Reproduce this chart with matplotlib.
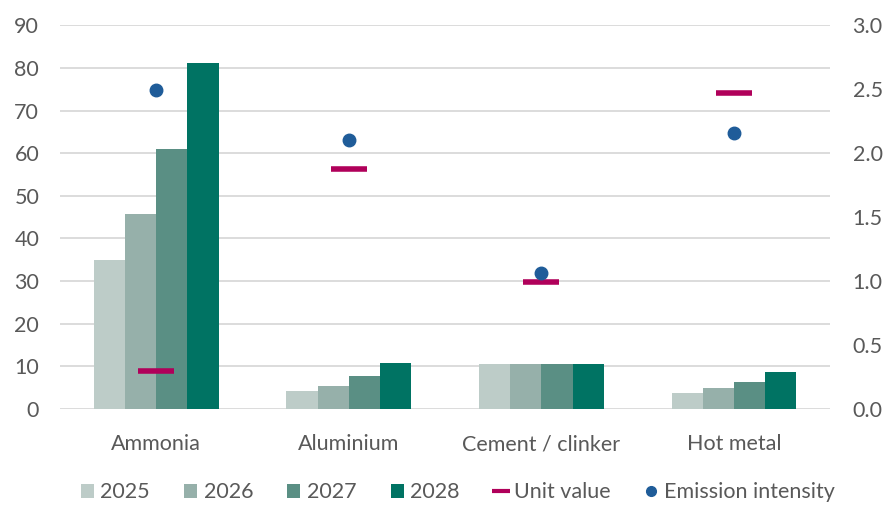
import numpy as np
import matplotlib.pyplot as plt
from matplotlib.lines import Line2D

# DONNEES
categories = ['Ammonia', 'Aluminium', 'Cement / clinker', 'Hot metal']
years = ['2025', '2026', '2027', '2028']
v2025 = [35.0, 4.2, 10.5, 3.8]
v2026 = [45.8, 5.5, 10.5, 5.0]
v2027 = [61.0, 7.8, 10.5, 6.4]
v2028 = [81.2, 10.8, 10.5, 8.7]
unit_value = [0.30, 1.88, 0.99, 2.47]
emission_intensity = [2.49, 2.10, 1.065, 2.16]

colors = ['#bdccc8', '#96b0aa', '#5a8f84', '#007363']
red = '#b0005a'
blue = '#1f5c99'
grey = '#595959'

plt.rcParams['font.family'] = ['Lato', 'DejaVu Sans']

fig = plt.figure(figsize=(8.89, 5.05), dpi=100)
ax = fig.add_axes([0.0675, 0.19, 0.8665, 0.76])
ax2 = ax.twinx()

x = np.arange(len(categories))
w = 0.162
series = [v2025, v2026, v2027, v2028]
handles = []
for i, (vals, c, yr) in enumerate(zip(series, colors, years)):
    b = ax.bar(x + (i - 1.5) * w, vals, w, color=c, label=yr, zorder=3)
    handles.append(b)

ax2.plot(x, unit_value, linestyle='none', marker='_', markersize=26,
         markeredgewidth=4, color=red, zorder=4)
ax2.plot(x, emission_intensity, linestyle='none', marker='o', markersize=9,
         color=blue, zorder=4)

ax.set_xlim(-0.5, 3.5)
ax.set_ylim(0, 90)
ax.set_yticks(np.arange(0, 91, 10))
ax2.set_ylim(0, 3.0)
ax2.set_yticks(np.arange(0, 3.01, 0.5))
ax2.set_yticklabels(['%.1f' % t for t in np.arange(0, 3.01, 0.5)])

ax.yaxis.grid(True, color='#d9d9d9', linestyle='-', linewidth=1.3, zorder=0)
ax.set_axisbelow(True)
ax.set_xticks(x)
ax.set_xticklabels(categories)

for a in (ax, ax2):
    for s in a.spines.values():
        s.set_visible(False)
    a.tick_params(length=0, labelsize=15.5, labelcolor=grey)
ax.tick_params(axis='y', pad=15)
ax.tick_params(axis='x', pad=18)
ax2.tick_params(axis='y', pad=16)

# legende : marqueurs plus petits que dans le graphique
h_unit = Line2D([], [], linestyle='none', marker='_', markersize=13,
                markeredgewidth=3, color=red)
h_em = Line2D([], [], linestyle='none', marker='o', markersize=7, color=blue)
fig.legend(handles + [h_unit, h_em], years + ['Unit value', 'Emission intensity'],
           loc='center', bbox_to_anchor=(0.515, 0.025), ncol=6, frameon=False,
           fontsize=15.5, handlelength=0.6, handleheight=0.6, handletextpad=0.3,
           columnspacing=1.6, labelcolor=grey)

fig.savefig('out.png', dpi=100)
